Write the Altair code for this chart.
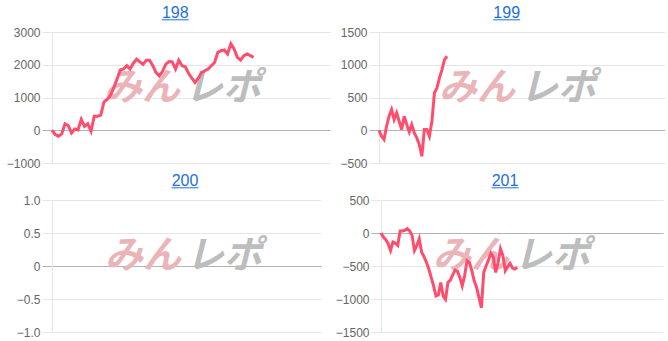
import altair as alt
import pandas as pd

# ---- data ----
titles = ["198", "199", "200", "201"]

s198 = [0, -130, -180, -110, 195, 145, -80, 40, 10, 330,
        120, 195, -30, 430, 430, 460, 870, 945, 1070, 1300,
        1560, 1840, 1870, 1970, 1870, 2040, 2170, 2090, 2010, 2140,
        2140, 1970, 1760, 1660, 1800, 2020, 2100, 2090, 1870, 2140,
        1970, 1940, 1740, 1590, 1460, 1590, 1760, 1815, 1870, 1970,
        2070, 2380, 2430, 2450, 2330, 2640, 2480, 2225, 2140, 2280,
        2330, 2280, 2225]

s199 = [0, -92, -142, 61, 214, 316, 163, 265, 137, 10,
        214, 87, -25, 87, -41, -117, -219, -397, 10, 10,
        -92, 137, 570, 646, 799, 926, 1079, 1130]

s200 = []

s201 = [0, -61, -102, -163, -265, -138, -153, -189, 31, 31,
        41, 66, 31, -36, -265, -189, -87, -291, -357, -444,
        -546, -673, -801, -954, -939, -750, -954, -1005, -750, -714,
        -633, -561, -582, -673, -801, -648, -418, -444, -571, -724,
        -826, -980, -1133, -597, -495, -408, -306, -367, -597, -444,
        -240, -342, -571, -510, -459, -531, -546, -520]

y_ticks = {
    "198": [-1000, 0, 1000, 2000, 3000],
    "199": [-500, 0, 500, 1000, 1500],
    "200": [-1.0, -0.5, 0, 0.5, 1.0],
    "201": [-1500, -1000, -500, 0, 500],
}
x_max = {"198": 85.5, "199": 113.5, "200": 100, "201": 118}

# ---- styles ----
LINE_COLOR = "#ff4d6d"
TITLE_COLOR = "#1e6fdc"
GRID = "#e6e6e6"
ZERO = "#b3b3b3"
FONT = "Liberation Sans"

series = {"198": s198, "199": s199, "200": s200, "201": s201}
sizes = {"198": (278, 131), "199": (286, 131), "200": (269, 132), "201": (282, 132)}
title_x = {"198": 123.3, "199": 127.7, "200": 133, "201": 124}
mark_x = {"198": 130, "199": 138, "200": 131, "201": 130}


def panel(key):
    vals = series[key]
    df = pd.DataFrame({"x": list(range(len(vals))), "y": vals}) if vals else pd.DataFrame({"x": pd.Series([], dtype=float), "y": pd.Series([], dtype=float)})
    ticks = y_ticks[key]
    w, h = sizes[key]
    common = dict(
        values=ticks, title=None, tickSize=10, labelPadding=2, labelColor="#666666",
        labelFontSize=12, labelFont=FONT, domainColor=GRID,
        gridColor={"condition": {"test": "datum.value === 0", "value": ZERO}, "value": GRID},
        tickColor={"condition": {"test": "datum.value === 0", "value": ZERO}, "value": GRID},
    )
    if key == "200":
        axis = alt.Axis(labelExpr="datum.value == 0 ? '0' : format(datum.value, '.1f')", **common)
    else:
        axis = alt.Axis(format="d", **common)

    line = alt.Chart(df).mark_line(color=LINE_COLOR, strokeWidth=3).encode(
        x=alt.X("x:Q", axis=None, scale=alt.Scale(domain=[0, x_max[key]], nice=False, zero=False)),
        y=alt.Y("y:Q", axis=axis, scale=alt.Scale(domain=[ticks[0], ticks[-1]], nice=False, zero=False)),
    )

    wm = pd.DataFrame({"t": ["みん"]})
    wm2 = pd.DataFrame({"t": ["レポ"]})
    cx = mark_x[key]
    wm_a = alt.Chart(wm).mark_text(
        font="Noto Sans CJK JP", fontSize=38, fontWeight="bold", fontStyle="italic",
        color="#eab4b8", align="right", baseline="middle"
    ).encode(x=alt.value(cx - 2), y=alt.value(57), text="t:N")
    wm_b = alt.Chart(wm2).mark_text(
        font="Noto Sans CJK JP", fontSize=38, fontWeight="bold", fontStyle="italic",
        color="#bdbdbd", align="left", baseline="middle"
    ).encode(x=alt.value(cx + 3), y=alt.value(57), text="t:N")

    tdf = pd.DataFrame({"t": [key]})
    tx = title_x[key]
    ttl = alt.Chart(tdf).mark_text(
        font=FONT, fontSize=16, color=TITLE_COLOR, align="center", baseline="alphabetic"
    ).encode(x=alt.value(tx), y=alt.value(-13.7), text="t:N")
    und = alt.Chart(tdf).mark_rule(color=TITLE_COLOR, strokeWidth=1).encode(
        x=alt.value(tx - 13.5), x2=alt.value(tx + 13.5), y=alt.value(-12.2)
    )
    return alt.layer(wm_a, wm_b, line, ttl, und).properties(width=w, height=h)


row1 = alt.hconcat(panel("198"), panel("199"), spacing=9)
row2 = alt.hconcat(panel("200"), panel("201"), spacing=14)

chart = alt.vconcat(row1, row2, spacing=4).properties(
    padding={"left": 6, "top": 5, "right": 0, "bottom": 0},
    background="white",
).configure_view(stroke=None)

chart.save("out.html", embed_options={"renderer": "svg", "actions": False})
